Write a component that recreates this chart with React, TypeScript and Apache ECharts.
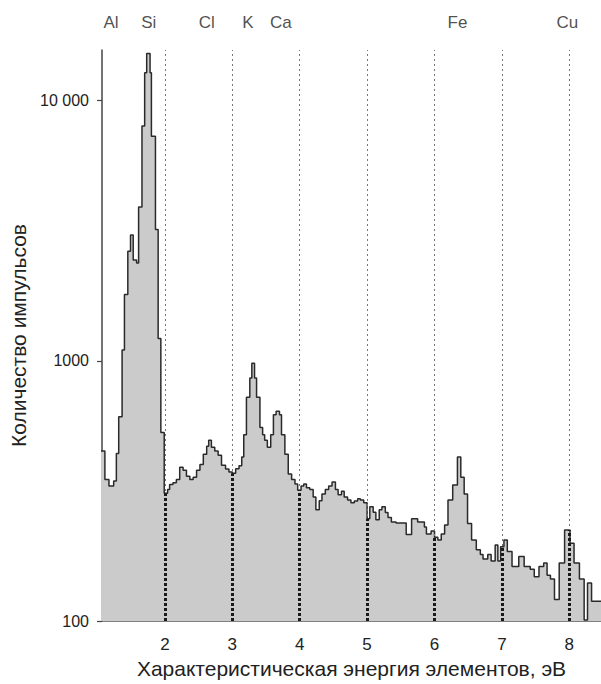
import React, { useEffect, useRef } from "react";
import * as echarts from "echarts";

// Spectrum: bin left edges (keV) and counts
const energy = [
  1.05, 1.11, 1.17, 1.24, 1.28, 1.315, 1.365, 1.4, 1.45, 1.49,
  1.53, 1.58, 1.61, 1.66, 1.7, 1.73, 1.78, 1.8, 1.86, 1.9,
  1.94, 1.99, 2.04, 2.07, 2.12, 2.17, 2.22, 2.27, 2.32, 2.37,
  2.42, 2.47, 2.52, 2.57, 2.62, 2.65, 2.69, 2.74, 2.79, 2.84,
  2.9, 2.95, 3.0, 3.05, 3.1, 3.14, 3.17, 3.21, 3.26, 3.29,
  3.33, 3.36, 3.41, 3.45, 3.48, 3.52, 3.57, 3.61, 3.65, 3.7,
  3.73, 3.78, 3.83, 3.88, 3.93, 3.97, 4.02, 4.06, 4.1, 4.15,
  4.2, 4.24, 4.29, 4.33, 4.38, 4.43, 4.48, 4.53, 4.57, 4.62,
  4.66, 4.71, 4.76, 4.81, 4.86, 4.9, 4.95, 5.0, 5.04, 5.09,
  5.13, 5.18, 5.22, 5.27, 5.31, 5.36, 5.43, 5.58, 5.66, 5.75,
  5.85, 5.88, 5.95, 6.0, 6.05, 6.1, 6.15, 6.2, 6.27, 6.34,
  6.39, 6.44, 6.49, 6.55, 6.62, 6.68, 6.72, 6.79, 6.84, 6.9,
  6.94, 6.98, 7.03, 7.08, 7.15, 7.25, 7.33, 7.42, 7.48, 7.55,
  7.62, 7.67, 7.72, 7.78, 7.85, 7.93, 8.01, 8.07, 8.15, 8.22,
  8.27, 8.33, 8.5,
];
const counts = [
  450, 350, 330, 345, 440, 610, 1100, 1800, 2640, 3050,
  2440, 2380, 3900, 8000, 12800, 15200, 12800, 7300, 3200, 1220,
  530, 310, 320, 335, 340, 350, 390, 380, 360, 350,
  357, 380, 400, 438, 470, 495, 465, 450, 434, 397,
  384, 374, 370, 385, 395, 427, 520, 724, 860, 980,
  860, 724, 555, 520, 495, 465, 520, 620, 640, 620,
  520, 438, 367, 350, 336, 318, 330, 336, 325, 320,
  300, 268, 290, 308, 320, 330, 342, 320, 306, 315,
  300, 292, 285, 289, 295, 292, 285, 247, 275, 262,
  245, 268, 275, 261, 250, 240, 238, 215, 247, 240,
  230, 216, 222, 210, 205, 216, 234, 292, 333, 427,
  357, 308, 237, 205, 188, 180, 173, 180, 170, 196,
  170, 193, 205, 185, 162, 177, 162, 158, 148, 162,
  167, 150, 145, 121, 167, 224, 199, 167, 145, 101,
  140, 119, 119,
];

const gridEnergies = [2, 3, 4, 5, 6, 7, 8];
const xTickLabels = [2, 3, 4, 5, 6, 7, 8];
const yTickValues = [100, 1000, 10000];
const yTickText = ["100", "1000", "10 000"];
const elementNames = ["Al", "Si", "Cl", "K", "Ca", "Fe", "Cu"];
const elementLabelEnergy = [1.2, 1.76, 2.62, 3.23, 3.72, 6.34, 7.97];

const FONT = "Liberation Sans, Arial, sans-serif";
const TEXT = "#222";

function countAt(x: number): number {
  let v = counts[0];
  for (let i = 0; i < energy.length; i++) {
    if (energy[i] <= x) v = counts[i];
  }
  return v;
}

export default function App() {
  const ref = useRef<HTMLDivElement>(null);
  useEffect(() => {
    if (!ref.current) return;
    const chart = echarts.init(ref.current, null, { renderer: "svg" });
    const yMax = Math.pow(10, 4.195);
    const spectrum = energy.map((e, i) => [e, counts[i]]);
    chart.setOption({
      animation: false,
      backgroundColor: "#ffffff",
      grid: { left: 102, top: 50, width: 500, height: 575 },
      xAxis: {
        type: "value",
        min: 1.067,
        max: 8.47,
        axisLine: { show: true, onZero: false, lineStyle: { color: "#555", width: 1.5 } },
        axisTick: { show: false },
        splitLine: { show: false },
        axisLabel: {
          customValues: xTickLabels,
          fontSize: 17,
          color: TEXT,
          fontFamily: FONT,
          margin: 15,
        },
        name: "Характеристическая энергия элементов, эВ",
        nameLocation: "middle",
        nameGap: 37,
        nameTextStyle: { fontSize: 21, color: TEXT, fontFamily: FONT },
      },
      yAxis: {
        type: "log",
        logBase: 10,
        min: 100,
        max: yMax,
        axisLine: { show: true, lineStyle: { color: "#444", width: 1.5 } },
        axisTick: { show: true, length: 5, customValues: yTickValues, lineStyle: { color: "#444", width: 1.2 } },
        minorTick: { show: false },
        splitLine: { show: false },
        axisLabel: {
          customValues: yTickValues,
          formatter: (v: number) => {
            const i = yTickValues.indexOf(Math.round(v));
            return i >= 0 ? yTickText[i] : "";
          },
          fontSize: 16,
          color: TEXT,
          fontFamily: FONT,
          margin: 13,
        },
        name: "Количество импульсов",
        nameLocation: "middle",
        nameGap: 73,
        nameTextStyle: { fontSize: 21, color: TEXT, fontFamily: FONT },
      },
      series: [
        {
          type: "line",
          data: [],
          z: 1,
          markLine: {
            silent: true,
            symbol: ["none", "none"],
            label: { show: false },
            lineStyle: { color: "#777", width: 1, type: [2, 3] },
            data: gridEnergies.map((x) => ({ xAxis: x })),
          },
        },
        {
          type: "line",
          data: spectrum,
          step: "end",
          symbol: "none",
          z: 2,
          lineStyle: { color: "#2a2a2a", width: 1.5 },
          areaStyle: { color: "#cbcbcb", opacity: 1, origin: "start" },
        },
        {
          type: "line",
          data: [],
          z: 3,
          markLine: {
            silent: true,
            symbol: ["none", "none"],
            label: { show: false },
            lineStyle: { color: "#1a1a1a", width: 3, type: [3, 2] },
            data: gridEnergies.map((x) => [
              { coord: [x, 100] },
              { coord: [x, countAt(x)] },
            ]),
          },
        },
        {
          type: "scatter",
          symbolSize: 0,
          z: 4,
          clip: false,
          data: elementNames.map((n, i) => ({ name: n, value: [elementLabelEnergy[i], yMax] })),
          label: {
            show: true,
            position: "inside",
            offset: [0, -28],
            formatter: (p: any) => p.name,
            fontSize: 17,
            color: TEXT,
            fontFamily: FONT,
          },
        },
      ],
    });
    return () => chart.dispose();
  }, []);
  return (
    <div
      ref={ref}
      style={{ position: "absolute", left: 0, top: 0, width: 601, height: 684 }}
    />
  );
}
